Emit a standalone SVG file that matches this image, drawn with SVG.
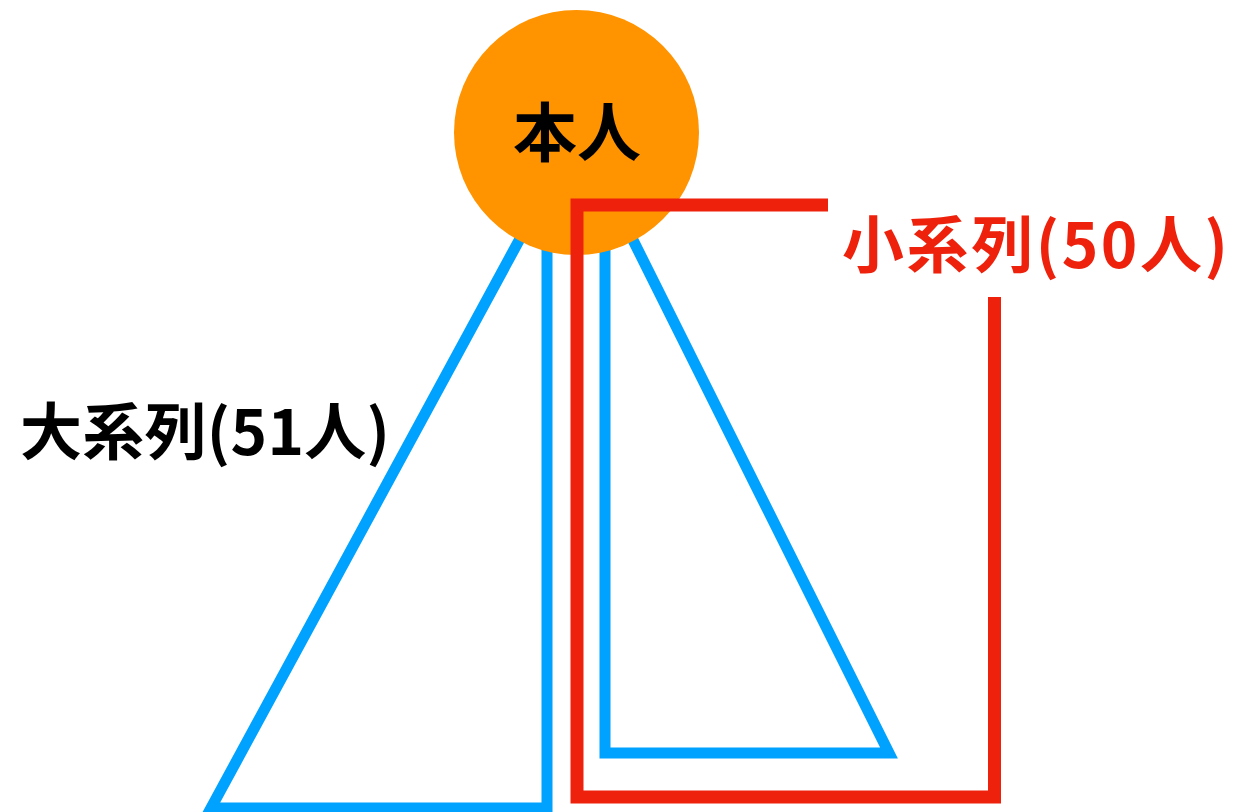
<svg xmlns="http://www.w3.org/2000/svg" width="1241" height="812" viewBox="0 0 1241 812">
  <style>
    .blue { fill: none; stroke: #00A2FF; stroke-width: 11; stroke-linejoin: miter; }
    .red { fill: none; stroke: #EE220C; stroke-width: 13; stroke-linejoin: miter; }
    .lbl { font-family: "Noto Sans CJK JP", "Noto Sans", sans-serif; font-weight: bold; }
  </style>
  <rect x="0" y="0" width="1241" height="812" fill="#FFFFFF"/>
  <g id="lines">
    <path id="big-series" class="blue" d="M541,200 L211,808 H547 V200"/>
    <path id="small-series" class="blue" d="M613,200 L889,753 H605 V200"/>
  </g>
  <g id="self">
    <circle cx="576.5" cy="132.5" r="122.5" fill="#FF9300"/>
    <text class="lbl" x="577" y="156" font-size="64" text-anchor="middle" fill="#000000">本人</text>
  </g>
  <g id="bracket">
    <path class="red" d="M828,205 H577 V797 H994.5 V297"/>
  </g>
  <g id="label-big">
    <text class="lbl" x="20" y="455" font-size="62" fill="#000000" textLength="370" lengthAdjust="spacing">大系列(51人)</text>
  </g>
  <g id="label-small">
    <text class="lbl" x="842" y="268" font-size="62" fill="#EE220C" textLength="386" lengthAdjust="spacing">小系列(50人)</text>
  </g>
</svg>
